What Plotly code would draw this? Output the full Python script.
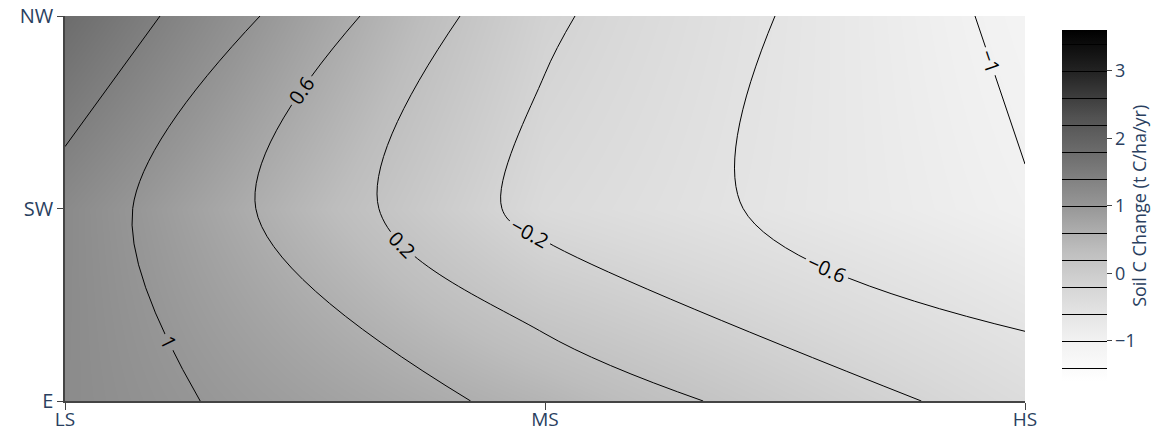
import plotly.graph_objects as go
import plotly.express as px

# Axis categories
stress_levels = ["LS", "MS", "HS"]
regions = ["E", "SW", "NW"]

# Soil carbon change (t C/ha/yr), one row per region, columns follow stress_levels
soil_c_E = [1.20, 0.49, -0.39]
soil_c_SW = [1.22, -0.34, -0.97]
soil_c_NW = [1.78, -0.14, -1.10]

# Colour bar ticks
cbar_ticks = [-1, 0, 1, 2, 3]

fig = go.Figure(
    go.Contour(
        x=stress_levels,
        y=regions,
        z=[soil_c_E, soil_c_SW, soil_c_NW],
        colorscale=px.colors.sequential.Greys,
        zmin=-1.6,
        zmax=3.6,
        contours=dict(
            coloring="heatmap",
            start=-1.4,
            end=3.4,
            size=0.4,
            showlabels=True,
            labelfont=dict(size=20, color="black", family="Open Sans"),
        ),
        line=dict(color="black", width=1),
        colorbar=dict(
            title=dict(text="Soil C Change (t C/ha/yr)", side="right",
                       font=dict(size=18)),
            thickness=45,
            len=0.964,
            y=0.507,
            x=1.028,
            tickvals=cbar_ticks,
            ticktext=[str(t) if t >= 0 else "\u2212" + str(-t) for t in cbar_ticks],
            ticks="outside",
            ticklen=5,
            tickfont=dict(size=18),
            outlinewidth=0,
        ),
    )
)

axis_style = dict(
    showline=True,
    linecolor="#444",
    linewidth=1.5,
    ticks="outside",
    tickcolor="#444",
    showgrid=False,
    zeroline=False,
    automargin=False,
)

fig.update_layout(
    template="plotly",
    width=1171,
    height=432,
    margin=dict(l=65, r=146, t=16, b=31, autoexpand=False),
    font=dict(family="Open Sans", color="#2a3f5f"),
    paper_bgcolor="white",
    plot_bgcolor="white",
    xaxis=dict(axis_style, ticklen=7, ticklabelstandoff=-7, tickfont=dict(size=19)),
    yaxis=dict(axis_style, ticklen=6, tickfont=dict(size=20)),
)

fig.write_html("out.html")
